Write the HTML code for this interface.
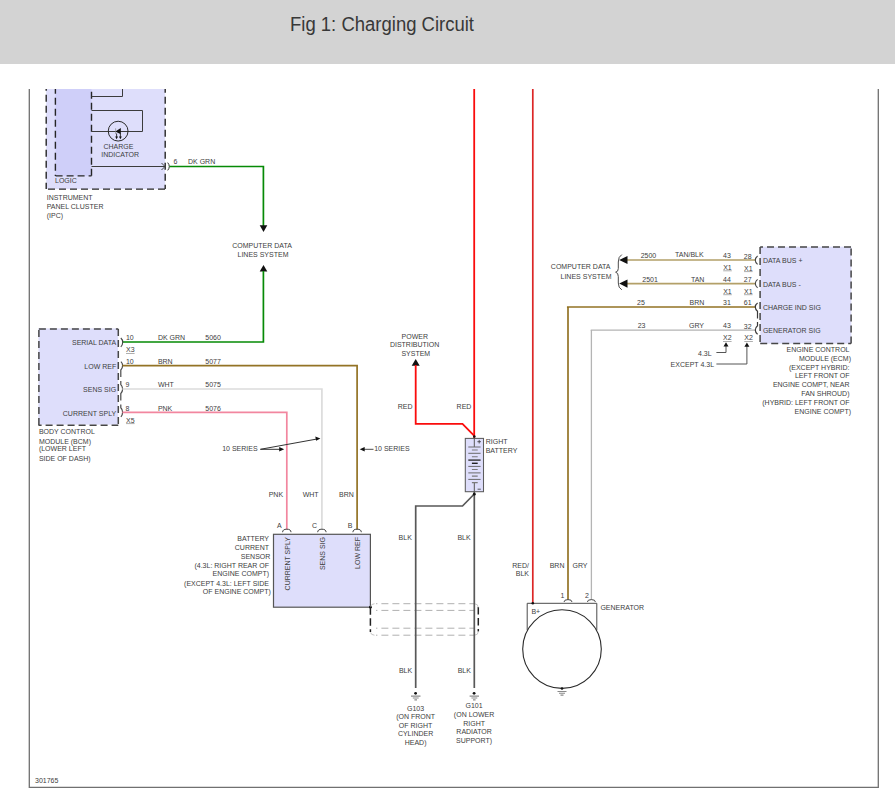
<!DOCTYPE html>
<html><head><meta charset="utf-8"><style>
html,body{margin:0;padding:0;background:#fff;width:895px;height:805px;overflow:hidden}
svg{display:block}
text{font-family:"Liberation Sans",sans-serif;font-size:7px;fill:#404040}
.r{text-anchor:end}
.m{text-anchor:middle}
.dash{fill:none;stroke:#3a3a3a;stroke-width:1.7;stroke-dasharray:7 4}
.thin{fill:none;stroke:#4a4a4a;stroke-width:1}
.blk{fill:none;stroke:#585858;stroke-width:1.7}
</style></head><body>
<svg width="895" height="805" viewBox="0 0 895 805">
<!-- header -->
<rect x="0" y="0" width="895" height="64" fill="#d3d3d3"/>
<text x="290" y="31" style="font-size:20px;fill:#383838" textLength="184" lengthAdjust="spacingAndGlyphs">Fig 1: Charging Circuit</text>

<!-- frame -->
<path d="M29.3,89 V787.4 H878.3 V89" fill="none" stroke="#707070" stroke-width="1.3"/>

<!-- IPC -->
<rect x="46.2" y="89" width="119" height="100.1" fill="#dedefb"/>
<rect x="55.4" y="89" width="36.1" height="86.9" fill="#cfcff9"/>
<path d="M46.2,89 L46.2,189.1" stroke="#262626" stroke-width="1.4" stroke-dasharray="7 4" stroke-dashoffset="5.3"/>
<path d="M46.2,189.1 L165.2,189.1" stroke="#262626" stroke-width="1.4" stroke-dasharray="7 4" stroke-dashoffset="9.2"/>
<path d="M165.2,89 L165.2,189.1" stroke="#262626" stroke-width="1.4" stroke-dasharray="7 4" stroke-dashoffset="3.3"/>
<path d="M55.4,89 L55.4,175.9" stroke="#262626" stroke-width="1.4" stroke-dasharray="7 4" stroke-dashoffset="2.3"/>
<path d="M55.4,175.9 L91.5,175.9" stroke="#262626" stroke-width="1.4" stroke-dasharray="7 4" stroke-dashoffset="10.8"/>
<path d="M91.5,89 L91.5,175.9" stroke="#262626" stroke-width="1.4" stroke-dasharray="7 4" stroke-dashoffset="8.3"/>
<path class="thin" d="M91.5,96.5 H122.5 V89 M91.5,110.5 H142.5 V131.5 H91.5 M91.5,166.5 H165" style="stroke:#3c3c3c"/>
<path class="thin" d="M161.5,163 L165,166.5 L161.5,170"/>
<circle cx="118.15" cy="131.15" r="9.9" fill="none" stroke="#2a2a2a" stroke-width="1"/>
<path d="M115.4,131.5 L120.8,128 V134.2 Z" fill="#111"/>
<path d="M115.6,128.3 V134" stroke="#888" stroke-width="0.7"/>
<path d="M116.6,133.5 V138 M120.4,133.5 V138" stroke="#222" stroke-width="0.9"/>
<path d="M115.2,136.6 L116.6,139.3 L118,136.6 Z M119,136.6 L120.4,139.3 L121.8,136.6 Z" fill="#111"/>
<text x="103.4" y="149">CHARGE</text>
<text x="101.2" y="156.5">INDICATOR</text>
<text x="55" y="182.7">LOGIC</text>
<text x="46.7" y="199.7">INSTRUMENT</text>
<text x="46.7" y="208.9">PANEL CLUSTER</text>
<text x="46.7" y="217.6">(IPC)</text>
<path class="thin" d="M167.7,162.6 Q170.9,166.5 167.7,170.4" style="stroke:#333"/>
<text x="173.4" y="163.6">6</text>
<text x="188" y="163.6">DK GRN</text>
<path d="M169.5,166.5 H263.4 V226" fill="none" stroke="#068a06" stroke-width="1.7"/>
<path d="M259.7,225.2 H267.3 L263.5,232 Z" fill="#111"/>
<text class="m" x="262" y="248">COMPUTER DATA</text>
<text class="m" x="263" y="256.8">LINES SYSTEM</text>
<path d="M259.7,271.6 H267.3 L263.5,265 Z" fill="#111"/>
<path d="M263.4,271 V342 H122.4" fill="none" stroke="#068a06" stroke-width="1.7"/>

<!-- BCM -->
<rect x="38.4" y="328.4" width="79.8" height="96.3" fill="#dedefb"/>
<path d="M38.4,328.9 L118.3,328.9" stroke="#464646" stroke-width="1.5" stroke-dasharray="7 4" stroke-dashoffset="10.5"/>
<path d="M38.9,328.9 L38.9,425.2" stroke="#464646" stroke-width="1.5" stroke-dasharray="7 4" stroke-dashoffset="10.0"/>
<path d="M38.4,425.2 L118.3,425.2" stroke="#464646" stroke-width="1.5" stroke-dasharray="7 4" stroke-dashoffset="3.8"/>
<path d="M118.3,328.9 L118.3,425.2" stroke="#464646" stroke-width="1.5" stroke-dasharray="7 4" stroke-dashoffset="0.0"/>
<text class="r" x="116.2" y="344.8">SERIAL DATA</text>
<text class="r" x="116.2" y="369.4">LOW REF</text>
<text class="r" x="116.2" y="391.7">SENS SIG</text>
<text class="r" x="116.2" y="416">CURRENT SPLY</text>
<path d="M120.8,338 Q122.7,339.5 122.7,342.3 Q122.7,345 120.8,346.8" fill="none" stroke="#444" stroke-width="1.1"/>
<path d="M120.9,361.6 Q122.6,363 122.6,365.6 Q122.6,368.2 120.8,370 V377 M120.8,381 V384.6 Q122.6,386.2 122.6,389 Q122.6,391.8 120.8,393.5 V400.5 M120.8,404.5 V407.8 Q122.6,409.5 122.6,412.3 Q122.6,415 120.9,416.8" fill="none" stroke="#4a4a4a" stroke-width="1.2"/>
<text x="125.9" y="339.7">10</text>
<text x="126" y="352.4">X3</text>
<text x="125.9" y="363.7">10</text>
<text x="125.4" y="386.7">9</text>
<text x="125.4" y="411.4">8</text>
<text x="126" y="422.5">X5</text>
<text x="157.9" y="339.7">DK GRN</text>
<text x="205.3" y="339.7">5060</text>
<text x="157.9" y="363.6">BRN</text>
<text x="205.3" y="363.6">5077</text>
<text x="157.9" y="386.5">WHT</text>
<text x="205.3" y="386.5">5075</text>
<text x="157.9" y="410.5">PNK</text>
<text x="205.3" y="410.5">5076</text>
<path d="M122.4,365.6 H357.1 V529.4" fill="none" stroke="#937325" stroke-width="1.7"/>
<path d="M122.4,389 H321.9 V529.4" fill="none" stroke="#dcdcdc" stroke-width="1.7"/>
<path d="M122.4,412.3 H286.8 V529.4" fill="none" stroke="#f2869f" stroke-width="1.7"/>
<text x="38.9" y="434">BODY CONTROL</text>
<text x="38.9" y="443.6">MODULE (BCM)</text>
<text x="38.9" y="451.4">(LOWER LEFT</text>
<text x="38.9" y="460.8">SIDE OF DASH)</text>

<!-- 10 series -->
<text x="222.2" y="450.5">10 SERIES</text>
<path class="thin" d="M260.4,449.3 H281 M260.4,449.3 L317,439" style="stroke:#333"/>
<path d="M284.2,449.2 L279.2,447 V451.4 Z M320.4,438.4 L315.3,436.5 L316.1,440.8 Z" fill="#111"/>
<path class="thin" d="M363,449.3 H373.5"/>
<path d="M359.7,449.3 L364.7,447.1 V451.5 Z" fill="#111"/>
<text x="374.2" y="450.5">10 SERIES</text>
<text x="268.7" y="497">PNK</text>
<text x="302.7" y="497">WHT</text>
<text x="339" y="497">BRN</text>
<text x="276.9" y="527.7">A</text>
<text x="312" y="527.7">C</text>
<text x="347.7" y="527.7">B</text>
<path class="thin" d="M282.6,532.2 A4.2,3 0 0 1 291,532.2 M317.7,532.2 A4.2,3 0 0 1 326.1,532.2 M352.9,532.2 A4.2,3 0 0 1 361.3,532.2" style="stroke:#444"/>

<!-- battery current sensor -->
<rect x="273.5" y="534.3" width="96.9" height="72.9" fill="#dedefb" stroke="#555" stroke-width="1.2"/>
<text class="r" transform="translate(290,537) rotate(-90)">CURRENT SPLY</text>
<text class="r" transform="translate(324.8,537) rotate(-90)">SENS SIG</text>
<text class="r" transform="translate(359.7,537) rotate(-90)">LOW REF</text>
<text class="r" x="269" y="540.9">BATTERY</text>
<text class="r" x="269" y="549.5">CURRENT</text>
<text class="r" x="270.3" y="558.6">SENSOR</text>
<text class="r" x="269" y="568.3">(4.3L: RIGHT REAR OF</text>
<text class="r" x="269" y="576.4">ENGINE COMPT)</text>
<text class="r" x="269" y="585.5">(EXCEPT 4.3L: LEFT SIDE</text>
<text class="r" x="270.9" y="593.7">OF ENGINE COMPT)</text>
<circle cx="370.4" cy="607.2" r="1.4" fill="#111"/>
<path d="M376,603.7 H475 M376,610.4 H475 M376,628.2 H475 M376,635.2 H475" stroke="#b0b0b0" stroke-width="1" stroke-dasharray="7 4" stroke-dashoffset="5.6"/>
<path d="M370.4,607.2 V632" stroke="#222" stroke-width="1.5" stroke-dasharray="7.5 3.5"/>
<path d="M478.3,607 V631.4" stroke="#222" stroke-width="1.5" stroke-dasharray="7.5 3.5"/>
<path d="M474.5,603.7 Q478.3,604 478.3,607.5 M474.5,635.2 Q478.3,635 478.3,631.5 M374.5,603.7 Q371,604 370.6,606.5 M374.5,635.2 Q371,635 370.6,632.5" fill="none" stroke="#c0c0c0" stroke-width="0.9"/>

<!-- power distribution & battery -->
<text class="m" x="414.8" y="338.8">POWER</text>
<text class="m" x="414.6" y="346.9">DISTRIBUTION</text>
<text class="m" x="415.8" y="355.7">SYSTEM</text>
<path d="M411.7,365.8 H419.7 L415.7,359.1 Z" fill="#111"/>
<path d="M415.7,365 V423.8 H462.5 L474.3,435.9" fill="none" stroke="#fa0c0c" stroke-width="1.8"/>
<path d="M474.2,89 V437.9" fill="none" stroke="#fa0c0c" stroke-width="1.8"/>
<text x="397.7" y="408.8">RED</text>
<text x="456.6" y="408.8">RED</text>
<rect x="465.3" y="438.4" width="18.2" height="53.3" fill="#dedefb" stroke="#5c5c5c" stroke-width="1.05"/>
<circle cx="474.3" cy="436.5" r="1.3" fill="#111"/>
<path d="M474.3,437.9 V447 M474.3,482.6 V491.8" stroke="#555" stroke-width="1"/>
<path d="M468.3,447 H480.6 M468.3,453.3 H480.6 M468.3,466.4 H480.6 M468.3,472.9 H480.6 M468.3,479.4 H480.6" stroke="#6a6a6a" stroke-width="1"/>
<path d="M471.9,450 H477.7 M471.9,456.8 H477.7 M471.9,469.5 H477.7 M471.9,476.1 H477.7 M471.9,482.6 H477.7" stroke="#7a7a7a" stroke-width="1.1"/>
<path d="M468.3,460.1 H480.6" stroke="#333" stroke-width="1.4"/>
<path d="M471.9,463.3 H477.7" stroke="#222" stroke-width="1.4"/>
<path d="M477.4,441.7 H481 M479.2,439.9 V443.5 M477.6,489.2 H480.8" stroke="#333" stroke-width="0.8"/>
<text x="485.7" y="443.7">RIGHT</text>
<text x="485.7" y="452.6">BATTERY</text>
<path class="blk" d="M474.3,494 L462.5,506 H415.7 V688 M474.3,491.8 V688"/>
<circle cx="474.3" cy="494.2" r="1.4" fill="#111"/>
<text x="398.6" y="539.6">BLK</text>
<text x="457.4" y="539.6">BLK</text>
<text x="398.9" y="672.8">BLK</text>
<text x="457.7" y="672.8">BLK</text>
<circle cx="415.6" cy="693.3" r="1.4" fill="#111"/>
<circle cx="474.1" cy="693.3" r="1.4" fill="#111"/>
<path d="M411,696.2 H420.5 M412.8,698 H418.7 M414.4,699.8 H417 M469.6,696.2 H479 M471.4,698 H477.3 M473,699.8 H475.6" stroke="#8c8c8c" stroke-width="1.2"/>
<text class="m" x="415.6" y="710.7">G103</text>
<text class="m" x="415.6" y="719">(ON FRONT</text>
<text class="m" x="415.6" y="727.7">OF RIGHT</text>
<text class="m" x="415.6" y="735.7">CYLINDER</text>
<text class="m" x="415.6" y="745.3">HEAD)</text>
<text class="m" x="474.1" y="707.7">G101</text>
<text class="m" x="474.1" y="716.8">(ON LOWER</text>
<text class="m" x="474.1" y="725.5">RIGHT</text>
<text class="m" x="474.1" y="734">RADIATOR</text>
<text class="m" x="474.1" y="742.7">SUPPORT)</text>

<!-- generator -->
<path d="M532.8,89 V603.3" fill="none" stroke="#dc2626" stroke-width="1.7"/>
<text class="r" x="529" y="567.5">RED/</text>
<text class="r" x="529" y="576.2">BLK</text>
<path class="thin" d="M527.2,630.3 V603.3 H596.8 V630.3"/>
<circle cx="562" cy="649.1" r="39.3" fill="none" stroke="#2a2a2a" stroke-width="1.1"/>
<circle cx="532.8" cy="603.3" r="1.3" fill="#111"/>
<path d="M568,307 V599.8" fill="none" stroke="#937325" stroke-width="1.7"/>
<path d="M591.4,330 V599.8" fill="none" stroke="#b4b4b4" stroke-width="1.3"/>
<path class="thin" d="M564,602 A4,2.4 0 0 1 572,602 M587.4,602 A4,2.4 0 0 1 595.4,602"/>
<text x="549.7" y="567.5">BRN</text>
<text x="572.5" y="567.5">GRY</text>
<text x="560.6" y="597.7">1</text>
<text x="585" y="597.7">2</text>
<text x="531.4" y="613.6">B+</text>
<text x="600.4" y="609.6">GENERATOR</text>
<circle cx="562" cy="688.5" r="1.3" fill="#111"/>
<path d="M557.5,691.5 H566.5 M559,693.3 H565 M560.5,695.1 H563.5" stroke="#8a8a8a" stroke-width="1.1"/>

<!-- ECM -->
<rect x="760.3" y="246.7" width="91.1" height="96.9" fill="#dedefb"/>
<path d="M760.2,246.9 L851.1,246.9" stroke="#464646" stroke-width="1.5" stroke-dasharray="7 4" stroke-dashoffset="4.2"/>
<path d="M851.1,246.9 L851.1,343.6" stroke="#464646" stroke-width="1.5" stroke-dasharray="7 4" stroke-dashoffset="9.3"/>
<path d="M760.2,343.6 L851.1,343.6" stroke="#464646" stroke-width="1.5" stroke-dasharray="7 4" stroke-dashoffset="0.0"/>
<path d="M760.1,246.9 L760.1,343.6" stroke="#464646" stroke-width="1.5" stroke-dasharray="7 4" stroke-dashoffset="10.8"/>
<text x="762.9" y="262.6">DATA BUS +</text>
<text x="762.9" y="286.5">DATA BUS -</text>
<text x="762.9" y="309.8">CHARGE IND SIG</text>
<text x="762.9" y="333">GENERATOR SIG</text>
<path d="M626.9,260 H756 M626.9,283.6 H756" fill="none" stroke="#b3a068" stroke-width="1.7"/>
<path d="M619.2,260 L627.5,255.9 V264.1 Z M619.2,283.6 L627.5,279.5 V287.7 Z" fill="#111"/>
<path d="M567.8,308 V307 H756" fill="none" stroke="#937325" stroke-width="1.7"/>
<path d="M591.4,331 V330.1 H756" fill="none" stroke="#b4b4b4" stroke-width="1.3"/>
<path d="M757.6,256 Q755.3,257.8 755.3,260.2 Q755.3,262.6 757.6,264.4 M757.6,279.4 Q755.3,281.2 755.3,283.6 Q755.3,286 757.6,287.8" fill="none" stroke="#444" stroke-width="1.1"/>
<path d="M757.6,303 Q755.3,304.6 755.3,307 Q755.3,309.4 757.5,311.2 V318.5 M757.5,322 V325.8 Q755.3,327.6 755.3,330.1 Q755.3,332.6 757.6,334.3" fill="none" stroke="#3a3a3a" stroke-width="1.2"/>
<text x="640.7" y="257.6">2500</text>
<text x="675" y="257">TAN/BLK</text>
<text x="723" y="257.6">43</text>
<text x="743.8" y="258.6">28</text>
<text x="723.2" y="269.7">X1</text>
<text x="744" y="270.5">X1</text>
<text x="642.3" y="281.8">2501</text>
<text x="690.9" y="281.8">TAN</text>
<text x="723" y="281.8">44</text>
<text x="743.8" y="281.8">27</text>
<text x="723.2" y="293.6">X1</text>
<text x="744" y="293.6">X1</text>
<text x="637.1" y="304.9">25</text>
<text x="689.6" y="304.9">BRN</text>
<text x="723" y="304.9">31</text>
<text x="743.8" y="304.9">61</text>
<text x="637.7" y="327.5">23</text>
<text x="689" y="327.5">GRY</text>
<text x="723" y="327.5">43</text>
<text x="743.8" y="328.5">32</text>
<text x="723" y="340.4">X2</text>
<text x="744.3" y="340.4">X2</text>
<text x="698" y="355.8">4.3L</text>
<text x="670.6" y="366.6">EXCEPT 4.3L</text>
<path class="thin" d="M716.4,352.5 H726 V346 M716.4,364 H746.9 V346" style="stroke:#555"/>
<path d="M726,342.2 L723.5,346.6 H728.5 Z M746.9,342.4 L744.4,346.8 H749.4 Z" fill="#111"/>
<text class="r" x="610.5" y="269.4">COMPUTER DATA</text>
<text class="r" x="611.5" y="278.6">LINES SYSTEM</text>
<path class="thin" d="M621.8,254.6 Q618.3,256.5 618.3,262 V268.5 Q618.3,271.8 615.6,272.2 Q618.3,272.6 618.3,276.5 V283 Q618.3,288 621.8,289.8"/>
<text class="r" x="849.5" y="351.9">ENGINE CONTROL</text>
<text class="r" x="851" y="360.6">MODULE (ECM)</text>
<text class="r" x="849.5" y="370.2">(EXCEPT HYBRID:</text>
<text class="r" x="849.5" y="377.8">LEFT FRONT OF</text>
<text class="r" x="849.5" y="386.8">ENGINE COMPT, NEAR</text>
<text class="r" x="849.5" y="396">FAN SHROUD)</text>
<text class="r" x="849.5" y="404.5">(HYBRID: LEFT FRONT OF</text>
<text class="r" x="851" y="414.3">ENGINE COMPT)</text>
<text x="35" y="782.8">301765</text>
<path d="M126.0,353.5 h8.6 M126.0,423.6 h8.6 M723.2,270.8 h8.6 M744.0,271.6 h8.6 M723.2,294.7 h8.6 M744.0,294.7 h8.6 M723.0,341.5 h8.6 M744.3,341.5 h8.6" stroke="#8c8c8c" stroke-width="0.7"/>
</svg>
</body></html>
